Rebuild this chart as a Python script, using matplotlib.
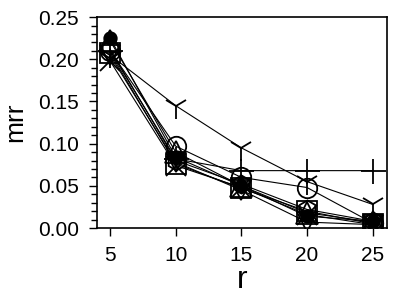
import matplotlib
matplotlib.use("Agg")
import matplotlib.pyplot as plt
from matplotlib.ticker import MultipleLocator

plt.rcParams['font.family'] = ['Liberation Sans', 'DejaVu Sans']

# data
r = [5, 10, 15, 20, 25]
tri_up = [0.222, 0.090, 0.050, 0.018, 0.007]
circle = [0.210, 0.097, 0.060, 0.048, 0.006]
square = [0.208, 0.076, 0.047, 0.020, 0.005]
cross_x = [0.198, 0.074, 0.048, 0.016, 0.004]
tri_down = [0.205, 0.078, 0.045, 0.007, 0.004]
dot = [0.225, 0.084, 0.050, 0.014, 0.008]
tri_y = [0.205, 0.145, 0.095, 0.055, 0.028]
plus = [0.210, 0.082, 0.068, 0.068, 0.068]
hexa = [0.212, 0.080, 0.052, 0.022, 0.008]

series = [
    (tri_up, '^', 16, 'none'),
    (circle, 'o', 14, 'none'),
    (square, 's', 14, 'none'),
    (cross_x, 'x', 14, 'none'),
    (tri_down, 'v', 15, 'none'),
    (hexa, 'h', 13, 'none'),
    (dot, 'o', 9, 'black'),
    (tri_y, '1', 18, 'none'),
    (plus, '+', 18, 'none'),
]

fig = plt.figure(figsize=(3.99, 3.0), dpi=100)
ax = fig.add_axes([0.243, 0.24, 0.727, 0.703])

for vals, m, ms, fc in series:
    ax.plot(r, vals, color='black', linewidth=0.8, marker=m, markersize=ms,
            markerfacecolor=fc, markeredgecolor='black', markeredgewidth=1.3)

ax.set_xlim(4, 26.1)
ax.set_ylim(0, 0.25)
ax.xaxis.set_major_locator(MultipleLocator(5))
ax.yaxis.set_major_locator(MultipleLocator(0.05))
ax.yaxis.set_minor_locator(MultipleLocator(0.01))
ax.yaxis.set_major_formatter(matplotlib.ticker.FormatStrFormatter('%.2f'))
ax.tick_params(axis='both', which='major', length=6, width=1, labelsize=15)
ax.tick_params(axis='x', pad=7)
ax.tick_params(axis='y', pad=7)
ax.tick_params(axis='y', which='minor', length=4, width=1)
for s in ax.spines.values():
    s.set_linewidth(1.2)

ax.set_xlabel('r', fontsize=23, labelpad=0)
ax.set_ylabel('mrr', fontsize=19, labelpad=8)

fig.savefig('out.png', dpi=100)
